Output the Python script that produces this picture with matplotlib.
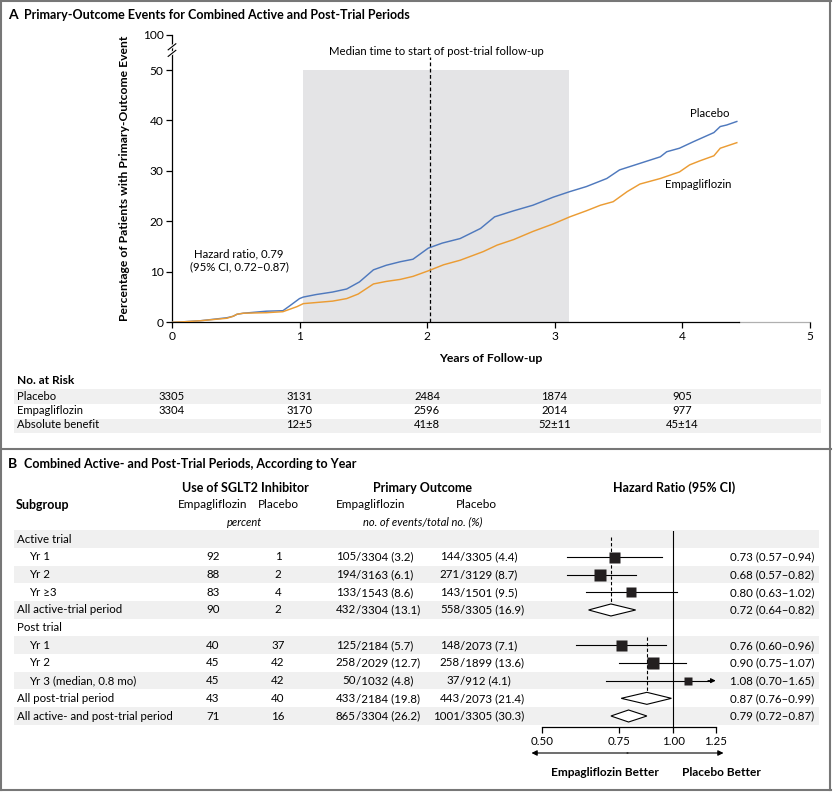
import matplotlib
matplotlib.use('Agg')
import matplotlib.pyplot as plt
import numpy as np
from matplotlib.patches import Rectangle, Polygon
from matplotlib.transforms import blended_transform_factory

plt.rcParams['font.family'] = ['Lato', 'DejaVu Sans']

# ---------------- Panel A data ----------------
placebo_t = [0, 0.09, 0.22, 0.43, 0.48, 0.51, 0.56, 0.74, 0.87, 0.92, 1.0, 1.03, 1.13, 1.26, 1.37,
             1.47, 1.58, 1.68, 1.79, 1.89, 2.01, 2.12, 2.26, 2.42, 2.53, 2.68, 2.83, 2.99, 3.12,
             3.25, 3.41, 3.51, 3.67, 3.83, 3.88, 3.98, 4.09, 4.25, 4.30, 4.35, 4.43]
placebo_pct = [0, 0.1, 0.3, 0.9, 1.2, 1.6, 1.8, 2.2, 2.3, 3.2, 4.7, 5.0, 5.5, 6.0, 6.6,
               8.0, 10.4, 11.3, 12.0, 12.5, 14.7, 15.7, 16.6, 18.6, 20.9, 22.1, 23.2, 24.8, 25.9,
               26.9, 28.5, 30.2, 31.5, 32.8, 33.8, 34.5, 35.8, 37.6, 38.8, 39.1, 39.8]
empa_t = [0, 0.09, 0.22, 0.43, 0.48, 0.51, 0.56, 0.74, 0.87, 0.98, 1.03, 1.26, 1.37, 1.46, 1.58,
          1.68, 1.79, 1.89, 2.01, 2.13, 2.26, 2.44, 2.55, 2.68, 2.83, 2.99, 3.12, 3.25, 3.36,
          3.46, 3.57, 3.67, 3.83, 3.98, 4.06, 4.14, 4.25, 4.30, 4.43]
empa_pct = [0, 0.1, 0.3, 0.8, 1.2, 1.6, 1.8, 1.9, 2.1, 3.1, 3.7, 4.2, 4.7, 5.6, 7.6,
            8.1, 8.5, 9.1, 10.2, 11.4, 12.3, 14.0, 15.3, 16.4, 18.0, 19.5, 20.9, 22.1, 23.2,
            23.9, 25.9, 27.4, 28.5, 29.8, 31.2, 32.0, 33.0, 34.5, 35.6]
overlap_start, overlap_end, overlap_top = 1.03, 3.11, 50
median_post_start = 2.02

risk_times = [0, 1, 2, 3, 4]
risk_placebo = ['3305', '3131', '2484', '1874', '905']
risk_empa = ['3304', '3170', '2596', '2014', '977']
abs_benefit = ['', '12\u00b15', '41\u00b18', '52\u00b111', '45\u00b114']

# ---------------- Panel B data ----------------
subgroups = ['Active trial', 'Yr 1', 'Yr 2', 'Yr \u22653', 'All active-trial period',
             'Post trial', 'Yr 1', 'Yr 2', 'Yr 3 (median, 0.8 mo)', 'All post-trial period',
             'All active- and post-trial period']
indented = [False, True, True, True, False, False, True, True, True, False, False]
sglt2_empa = ['', '92', '88', '83', '90', '', '40', '45', '45', '43', '71']
sglt2_plac = ['', '1', '2', '4', '2', '', '37', '42', '42', '40', '16']
events_empa = ['', '105/3304 (3.2)', '194/3163 (6.1)', '133/1543 (8.6)', '432/3304 (13.1)', '',
               '125/2184 (5.7)', '258/2029 (12.7)', '50/1032 (4.8)', '433/2184 (19.8)', '865/3304 (26.2)']
events_plac = ['', '144/3305 (4.4)', '271/3129 (8.7)', '143/1501 (9.5)', '558/3305 (16.9)', '',
               '148/2073 (7.1)', '258/1899 (13.6)', '37/912 (4.1)', '443/2073 (21.4)', '1001/3305 (30.3)']
hr = [np.nan, 0.73, 0.68, 0.80, 0.72, np.nan, 0.76, 0.90, 1.08, 0.87, 0.79]
hr_lo = [np.nan, 0.57, 0.57, 0.63, 0.64, np.nan, 0.60, 0.75, 0.70, 0.76, 0.72]
hr_hi = [np.nan, 0.94, 0.82, 1.02, 0.82, np.nan, 0.96, 1.07, 1.65, 0.99, 0.87]
is_pooled = [False, False, False, False, True, False, False, False, False, True, True]
hr_ticks = [0.50, 0.75, 1.00, 1.25]

# style
square_px = [0, 11, 11.7, 10.3, 0, 0, 11, 12, 7.3, 0, 0]
blue = '#4f79bd'
orange = '#eb9c34'
band = '#f0f0f0'
fs = 8.3     # body text
hs = 9.0     # bold column headers

W, H = 834, 792
fig = plt.figure(figsize=(W / 100, H / 100), dpi=100)

def frac(x0, y0, x1, y1):
    return [x0 / W, 1 - y1 / H, (x1 - x0) / W, (y1 - y0) / H]

ov = fig.add_axes([0, 0, 1, 1], zorder=0)
ov.set_xlim(0, W)
ov.set_ylim(H, 0)
ov.axis('off')

# frame
fc = '#777777'
ov.plot([1.5, 1.5], [1, 790], color=fc, lw=1.5)
ov.plot([830.5, 830.5], [1, 790], color=fc, lw=1.5)
ov.plot([1, 831], [1.2, 1.2], color=fc, lw=1.5)
ov.plot([1, 831], [448.5, 448.5], color=fc, lw=1.5)
ov.plot([1, 831], [790, 790], color=fc, lw=1.5)

# ---------------- Panel A ----------------
km = fig.add_axes(frac(172, 34.7, 809.5, 322.3), zorder=2)
km.patch.set_alpha(0)
km.set_xlim(0, 5)
km.set_ylim(0, 57)
km.add_patch(Rectangle((overlap_start, 0), overlap_end - overlap_start, overlap_top,
                       facecolor='#e4e4e6', edgecolor='none', zorder=0))
km.plot([median_post_start, median_post_start], [0, 52.5], color='black', lw=0.9,
        ls=(0, (3, 2)), zorder=3)
km.plot(placebo_t, placebo_pct, color=blue, lw=1.05, zorder=4)
km.plot(empa_t, empa_pct, color=orange, lw=1.05, zorder=4)
for s in ['top', 'right']:
    km.spines[s].set_visible(False)
km.spines['left'].set_linewidth(0.9)
km.spines['bottom'].set_linewidth(0.9)
km.spines['bottom'].set_bounds(0, 4.45)
km.plot([4.45, 5], [0, 0], color='#b0b0b0', lw=0.9, clip_on=False, zorder=1)
km.set_yticks([0, 10, 20, 30, 40, 50, 57])
km.set_yticklabels(['0', '10', '20', '30', '40', '50', '100'])
km.set_xticks([0, 1, 2, 3, 4, 5])
km.tick_params(axis='both', labelsize=8.6, length=4, width=0.9, pad=2)
# axis break marks
for yb in (53.3, 54.6):
    km.plot([-0.03, 0.03], [yb - 0.6, yb + 0.6], color='white', lw=2.2, clip_on=False, zorder=5)
    km.plot([-0.03, 0.03], [yb - 0.6, yb + 0.6], color='black', lw=0.8, clip_on=False, zorder=6)
km.set_xlabel('Years of Follow-up', fontsize=8.8, fontweight='bold', labelpad=8)

ov.text(8, 15, 'A', fontsize=10, fontweight='bold', va='center', ha='left')
ov.text(24, 15, 'Primary-Outcome Events for Combined Active and Post-Trial Periods',
        fontsize=9, fontweight='bold', va='center', ha='left')
ov.text(125, 178, 'Percentage of Patients with Primary-Outcome Event', fontsize=8.75,
        fontweight='bold', rotation=90, va='center', ha='center')
ov.text(436, 51.5, 'Median time to start of post-trial follow-up', fontsize=8.2,
        va='center', ha='center')
ov.text(432.5, 92, 'Overlap of active- and\npost-trial periods', fontsize=8.2,
        va='center', ha='center', linespacing=1.25)
ov.text(239, 260.5, 'Hazard ratio, 0.79\n(95% CI, 0.72\u20130.87)', fontsize=8.2,
        va='center', ha='center', linespacing=1.25)
ov.text(710, 113.5, 'Placebo', fontsize=8.2, va='center', ha='center')
ov.text(698.5, 185, 'Empagliflozin', fontsize=8.2, va='center', ha='center')

# number at risk
ov.text(17, 381, 'No. at Risk', fontsize=8.6, fontweight='bold', va='center', ha='left')
ov.add_patch(Rectangle((14, 389), 807, 14.7, facecolor=band, edgecolor='none', zorder=0))
ov.add_patch(Rectangle((14, 418.5), 807, 14.2, facecolor=band, edgecolor='none', zorder=0))
tr = blended_transform_factory(km.transData, ov.transData)
rows = [('Placebo', risk_placebo, 396), ('Empagliflozin', risk_empa, 410),
        ('Absolute benefit', abs_benefit, 425)]
for lab, vals, yy in rows:
    ov.text(17, yy, lab, fontsize=8.1, va='center', ha='left')
    for t, v in zip(risk_times, vals):
        ov.text(t, yy, v, fontsize=8.1, va='center', ha='center', transform=tr)

# ---------------- Panel B ----------------
ov.text(8, 464, 'B', fontsize=10, fontweight='bold', va='center', ha='left')
ov.text(24, 464, 'Combined Active- and Post-Trial Periods, According to Year',
        fontsize=9, fontweight='bold', va='center', ha='left')
ov.text(245, 488, 'Use of SGLT2 Inhibitor', fontsize=hs, fontweight='bold', va='center', ha='center')
ov.text(16, 505, 'Subgroup', fontsize=hs, fontweight='bold', va='center', ha='left')
ov.text(213, 505, 'Empagliflozin', fontsize=8.5, va='center', ha='center')
ov.text(278, 505, 'Placebo', fontsize=8.5, va='center', ha='center')
ov.text(245, 522, 'percent', fontsize=8, style='italic', va='center', ha='center')
ov.text(423, 488, 'Primary Outcome', fontsize=hs, fontweight='bold', va='center', ha='center')
ov.text(371, 505, 'Empagliflozin', fontsize=8.5, va='center', ha='center')
ov.text(476, 505, 'Placebo', fontsize=8.5, va='center', ha='center')
ov.text(423, 522, 'no. of events/total no. (%)', fontsize=8, style='italic', va='center', ha='center')
ov.text(674.5, 488, 'Hazard Ratio (95% CI)', fontsize=hs, fontweight='bold', va='center', ha='center')

row0, dy = 539.3, 17.67
n = len(subgroups)
for i in range(n):
    yy = row0 + i * dy
    if i % 2 == 0:
        ov.add_patch(Rectangle((14, yy - dy / 2), 805, dy, facecolor=band, edgecolor='none', zorder=0))
    ov.text(29 if indented[i] else 17, yy, subgroups[i], fontsize=fs, va='center', ha='left')
    ov.text(213, yy, sglt2_empa[i], fontsize=fs, va='center', ha='center')
    ov.text(278, yy, sglt2_plac[i], fontsize=fs, va='center', ha='center')
    for s, xs in ((events_empa[i], 356), (events_plac[i], 460)):
        if s:
            a, b = s.split('/', 1)
            ov.text(xs, yy, a, fontsize=fs, va='center', ha='right')
            ov.text(xs, yy, '/' + b, fontsize=fs, va='center', ha='left')
    if not np.isnan(hr[i]):
        ov.text(814, yy, f'{hr[i]:.2f} ({hr_lo[i]:.2f}\u2013{hr_hi[i]:.2f})', fontsize=fs,
                va='center', ha='right')

# forest axes
fy_top, fy_bot = 530.5, 726.7
fp = fig.add_axes(frac(541.7, fy_top, 715.7, fy_bot), zorder=3)
fp.patch.set_alpha(0)
fp.set_xscale('log')
fp.set_xlim(0.5, 1.25)
fp.set_ylim((fy_bot - row0) / dy, (fy_top - row0) / dy)
for s in ['top', 'right', 'left']:
    fp.spines[s].set_visible(False)
fp.spines['bottom'].set_linewidth(0.9)
fp.set_yticks([])
fp.set_xticks(hr_ticks)
fp.set_xticklabels([f'{v:.2f}' for v in hr_ticks])
fp.xaxis.set_minor_locator(matplotlib.ticker.NullLocator())
fp.tick_params(axis='x', labelsize=8.3, length=4.5, width=0.9, pad=2)
fp.axvline(1.0, color='black', lw=0.8)
# dashed pooled references
fp.plot([hr[4], hr[4]], [-0.13, 3.72], color='black', lw=0.8, ls=(0, (3, 2)), zorder=1)
fp.plot([hr[9], hr[9]], [5.52, 8.66], color='black', lw=0.8, ls=(0, (3, 2)), zorder=1)
xmax = fp.get_xlim()[1]
for i in range(n):
    if np.isnan(hr[i]):
        continue
    if is_pooled[i]:
        h = 0.34
        fp.add_patch(Polygon([(hr_lo[i], i), (hr[i], i - h), (hr_hi[i], i), (hr[i], i + h)],
                             closed=True, facecolor='white', edgecolor='black', lw=0.8, zorder=3))
    else:
        if hr_hi[i] > xmax:
            fp.plot([hr_lo[i], xmax * 0.975], [i, i], color='black', lw=0.8, zorder=2)
            fp.annotate('', xy=(xmax, i), xytext=(xmax * 0.96, i),
                        arrowprops=dict(arrowstyle='-|>', color='black', lw=0.8,
                                        mutation_scale=7, shrinkA=0, shrinkB=0),
                        annotation_clip=False)
        else:
            fp.plot([hr_lo[i], hr_hi[i]], [i, i], color='black', lw=0.8, zorder=2)
        fp.plot(hr[i], i, marker='s', ms=square_px[i] * 0.72, color='#231f20', mec='none', zorder=4)

# better arrow
ov.annotate('', xy=(531.5, 753), xytext=(628, 753),
            arrowprops=dict(arrowstyle='-|>', color='black', lw=0.8, mutation_scale=8,
                            shrinkA=0, shrinkB=0))
ov.annotate('', xy=(723.5, 753), xytext=(627, 753),
            arrowprops=dict(arrowstyle='-|>', color='black', lw=0.8, mutation_scale=8,
                            shrinkA=0, shrinkB=0))
ov.text(605, 772, 'Empagliflozin Better', fontsize=8.6, fontweight='bold', va='center', ha='center')
ov.text(721, 772, 'Placebo Better', fontsize=8.6, fontweight='bold', va='center', ha='center')

fig.savefig('out.png', dpi=100)
